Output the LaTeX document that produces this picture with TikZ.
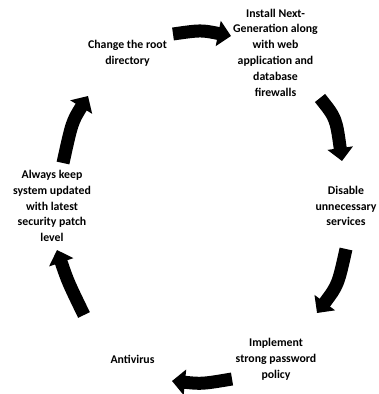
\documentclass[tikz,border=0pt]{standalone}
\usepackage{fontspec}
\setmainfont{Carlito}
\usetikzlibrary{arrows.meta}
\begin{document}
\begin{tikzpicture}[x=1pt,y=-1pt,
  lbl/.style={inner sep=0pt, align=center, font=\fontsize{11.8pt}{15.8pt}\selectfont\bfseries},
  bigarrow/.style={line width=13pt, line cap=butt, -{Triangle[length=13pt,width=25pt]}}]
\useasboundingbox (0,0) rectangle (379,394);
% stages
\node[lbl] (root) at (127.5,53.5) {Change the root\\directory};
\node[lbl] (fw) at (275.5,52.5) {Install Next-\\Generation along\\with web\\application and\\database\\firewalls};
\node[lbl] (dis) at (346,206) {Disable\\unnecessary\\services};
\node[lbl] (pwd) at (276,359.5) {Implement\\strong password\\policy};
\node[lbl] (av) at (132.5,359) {Antivirus};
\node[lbl] (upd) at (52,206) {Always keep\\system updated\\with latest\\security patch\\level};
% arrow end points
\coordinate (a1s) at (173,34);  \coordinate (a1e) at (231,36);
\coordinate (a2s) at (320,98);  \coordinate (a2e) at (342,161);
\coordinate (a3s) at (346,249); \coordinate (a3e) at (317,313);
\coordinate (a4s) at (232,379); \coordinate (a4e) at (172,381);
\coordinate (a5s) at (84,315);  \coordinate (a5e) at (57,250);
\coordinate (a6s) at (63,163);  \coordinate (a6e) at (88,96);
% arrows
\draw[bigarrow] (a1s) .. controls (201,30) .. (a1e);
\draw[bigarrow] (a2s) .. controls (336,118) .. (a2e);
\draw[bigarrow] (a3s) .. controls (338,285) .. (a3e);
\draw[bigarrow] (a4s) .. controls (202,384) .. (a4e);
\draw[bigarrow] (a5s) .. controls (68,282) .. (a5e);
\draw[bigarrow] (a6s) .. controls (72,122) .. (a6e);
\end{tikzpicture}
\end{document}
